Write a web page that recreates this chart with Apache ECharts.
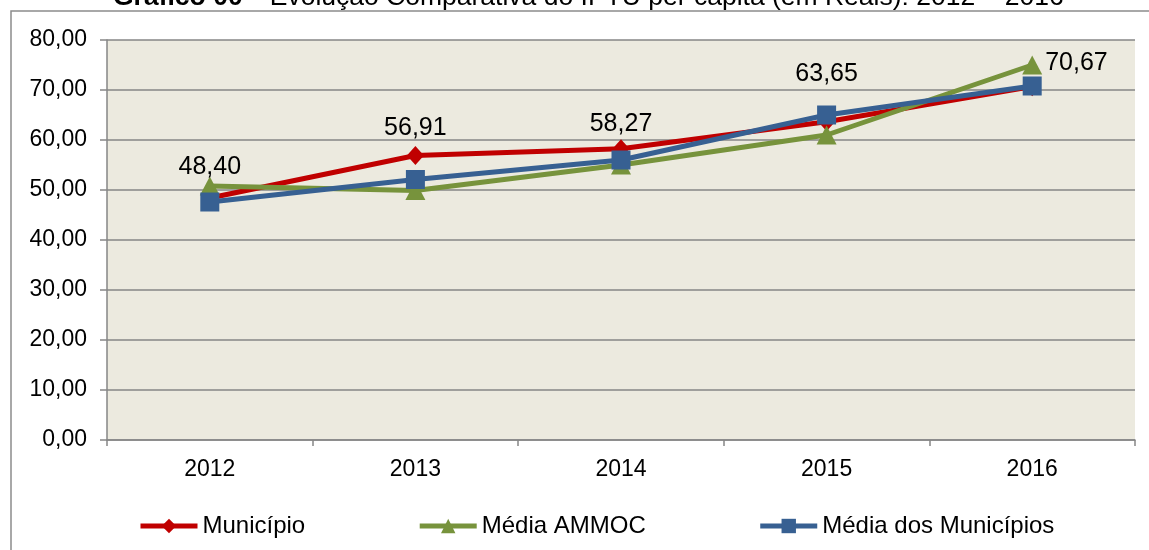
<!DOCTYPE html>
<html>
<head>
    <meta charset="UTF-8">
    <title>IPTU per capita</title>
    <script src="https://cdn.jsdelivr.net/npm/echarts@6/dist/echarts.min.js"></script>
    <style>
        html, body { margin: 0; padding: 0; background: #fff; }
        #chart { width: 1149px; height: 550px; }
    </style>
</head>
<body>
<div id="chart"></div>
<script>
    // dados
    var anos = ['2012', '2013', '2014', '2015', '2016'];
    var municipio = [48.40, 56.91, 58.27, 63.65, 70.67];
    var mediaAmmoc = [50.8, 49.9, 55.0, 61.0, 75.0];
    var mediaMunicipios = [47.6, 52.1, 56.0, 65.0, 70.8];
    var yTicks = [0, 10, 20, 30, 40, 50, 60, 70, 80];

    // deslocamento vertical dos rotulos (px acima do ponto)
    var rotuloAcima = [31, 27, 25, 48, 24];

    function fmt(v) {
        return Number(v).toFixed(2).replace('.', ',');
    }

    var fonte = 'Liberation Sans, Arial, sans-serif';
    var chart = echarts.init(document.getElementById('chart'));

    var option = {
        animation: false,
        textStyle: { fontFamily: fonte },
        title: {
            left: 108,
            top: -21,
            text: '{b|Gráfico 00} {n|– Evolução Comparativa do IPTU per capita (em Reais): 2012 – 2016}',
            textStyle: {
                rich: {
                    b: { fontSize: 26.5, fontWeight: 'bold', color: '#000', fontFamily: fonte },
                    n: { fontSize: 26.5, fontWeight: 'normal', color: '#000', fontFamily: fonte }
                }
            }
        },
        graphic: [{
            type: 'rect',
            shape: { x: 11, y: 11, width: 1200, height: 600 },
            style: { fill: 'none', stroke: '#8c8c8c', lineWidth: 1.5 },
            silent: true,
            z: -10
        }],
        legend: {
            left: 133,
            top: 509,
            itemGap: 112,
            itemWidth: 57,
            itemHeight: 18,
            lineStyle: { width: 5 },
            textStyle: { fontSize: 24, color: '#000', fontFamily: fonte },
            data: ['Município', 'Média AMMOC', 'Média dos Municípios']
        },
        grid: {
            left: 107,
            right: 14,
            top: 40,
            bottom: 110,
            show: true,
            backgroundColor: '#ECEADF',
            borderWidth: 0
        },
        xAxis: {
            type: 'category',
            data: anos,
            boundaryGap: true,
            axisLine: { show: true, lineStyle: { color: '#868686', width: 1.5 } },
            axisTick: { show: true, length: 6, alignWithLabel: false, lineStyle: { color: '#868686', width: 1.5 } },
            axisLabel: { fontSize: 23, color: '#000', margin: 18 }
        },
        yAxis: {
            type: 'value',
            min: yTicks[0],
            max: yTicks[yTicks.length - 1],
            interval: 10,
            axisLine: { show: true, lineStyle: { color: '#868686', width: 1.5 } },
            axisTick: { show: true, length: 7, lineStyle: { color: '#868686', width: 1.5 } },
            splitLine: { show: true, lineStyle: { color: '#868686', width: 1.5 } },
            axisLabel: { fontSize: 23, color: '#000', margin: 20, formatter: fmt }
        },
        series: [
            {
                name: 'Município',
                type: 'line',
                data: municipio,
                color: '#C00000',
                lineStyle: { width: 5, color: '#C00000' },
                symbol: 'diamond',
                symbolSize: [17, 19],
                itemStyle: { color: '#C00000' },
                label: {
                    show: true,
                    position: 'top',
                    fontSize: 25,
                    color: '#000',
                    formatter: function (p) { return fmt(p.value); }
                },
                labelLayout: function (p) {
                    var cx = p.rect.x + p.rect.width / 2;
                    var cy = p.rect.y + p.rect.height / 2;
                    var i = p.dataIndex;
                    if (i === anos.length - 1) {
                        return { x: cx + 13, y: cy - rotuloAcima[i], align: 'left', verticalAlign: 'middle' };
                    }
                    return { x: cx, y: cy - rotuloAcima[i], align: 'center', verticalAlign: 'middle' };
                }
            },
            {
                name: 'Média AMMOC',
                type: 'line',
                data: mediaAmmoc,
                color: '#77933C',
                lineStyle: { width: 5, color: '#77933C' },
                symbol: 'triangle',
                symbolSize: [20, 19],
                itemStyle: { color: '#77933C' }
            },
            {
                name: 'Média dos Municípios',
                type: 'line',
                data: mediaMunicipios,
                color: '#376092',
                lineStyle: { width: 5, color: '#376092' },
                symbol: 'rect',
                symbolSize: 19,
                itemStyle: { color: '#376092' }
            }
        ]
    };

    chart.setOption(option);
</script>
</body>
</html>
